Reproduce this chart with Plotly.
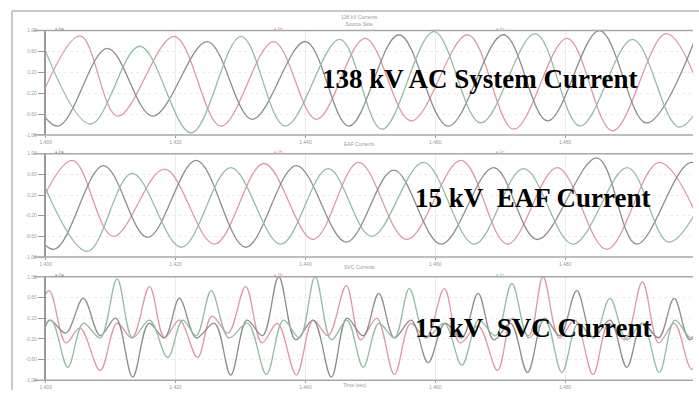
import plotly.graph_objects as go

W, H = 699, 393

# ---------------- axis ticks ----------------
x_tick_ms = [0, 20, 40, 60, 80]
x_tick_text = ["1.400", "1.420", "1.440", "1.460", "1.480"]
y_tick_vals = [-1.0, -0.6, -0.2, 0.2, 0.6, 1.0]
y_tick_text = ["-1.00", "-0.60", "-0.20", "0.20", "0.60", "1.00"]

# ---------------- panel 1 : 138 kV AC system current (time in ms, current in pu) ----------------
p1_t_a = [-2.3, 5.3, 11.1, 19.8, 27.0, 35.1, 41.7, 49.2, 56.3, 65.0, 72.1, 80.3, 87.3, 95.6, 102.6]
p1_i_a = [-0.77, 0.90, -0.64, 0.89, -0.83, 0.79, -0.70, 0.85, -0.73, 0.92, -0.89, 0.85, -0.92, 0.94, -0.81]
p1_t_b = [-5.8, 1.8, 9.5, 16.5, 24.9, 31.8, 40.0, 46.7, 54.4, 62.0, 70.5, 77.3, 85.3, 92.5, 100.2]
p1_i_b = [0.79, -0.83, 0.66, -0.64, 0.79, -0.70, 0.79, -0.83, 0.92, -0.83, 0.92, -0.73, 1.00, -0.77, 0.89]
p1_t_c = [-0.8, 6.9, 14.5, 22.4, 30.1, 36.9, 45.3, 51.8, 59.8, 67.0, 75.4, 82.3, 90.4, 97.6, 105.3]
p1_i_c = [0.85, -0.79, 0.70, -0.96, 0.89, -0.83, 0.83, -0.89, 0.98, -0.77, 0.94, -0.83, 0.83, -0.85, 0.85]

# ---------------- panel 2 : 15 kV EAF current ----------------
p2_t_a = [-3.5, 4.1, 10.4, 18.3, 26.0, 33.6, 41.2, 48.2, 55.6, 64.0, 71.1, 78.8, 86.4, 94.5, 102.0]
p2_i_a = [-0.75, 0.87, -0.60, 0.70, -0.75, 0.81, -0.66, 0.83, -0.66, 0.87, -0.75, 0.73, -0.85, 0.83, -0.71]
p2_t_b = [-6.5, 1.2, 8.9, 15.7, 23.2, 30.8, 38.6, 46.3, 53.6, 60.9, 69.0, 75.7, 84.9, 91.0, 99.5, 107.0]
p2_i_b = [0.80, -0.85, 0.77, -0.62, 0.87, -0.81, 0.77, -0.71, 0.68, -0.75, 0.73, -0.66, 0.92, -0.75, 0.83, -0.75]
p2_t_c = [-1.5, 6.4, 13.3, 20.9, 28.5, 36.2, 43.5, 50.2, 58.2, 66.0, 73.6, 81.2, 89.6, 96.0, 103.8]
p2_i_c = [0.77, -0.89, 0.62, -0.81, 0.73, -0.75, 0.71, -0.60, 0.83, -0.75, 0.71, -0.75, 0.73, -0.71, 0.80]

# ---------------- panel 3 : 15 kV SVC current ----------------
p3_t_a = [-7.3, -4.6, -2.7, 0.5, 3.1, 5.3, 8.4, 11.0, 13.3, 16.0, 18.3, 20.6, 23.4, 25.6, 28.1,
          30.8, 33.3, 35.7, 38.6, 41.2, 43.5, 46.3, 48.5, 51.0, 53.7, 56.2, 58.6, 61.4, 63.8,
          66.6, 69.6, 71.9, 74.4, 76.6, 79.1, 81.5, 84.3, 86.7, 89.2, 91.9, 94.4, 96.8, 99.5, 102.0]
p3_i_a = [-0.79, 0.01, -0.22, 0.73, -0.28, 0.01, -0.81, 0.10, -0.18, 0.81, -0.18, 0.16, -0.56, 0.24, -0.09,
          0.81, -0.28, 0.10, -0.90, 0.16, -0.14, 0.83, -0.22, 0.20, -0.89, 0.10, -0.18, 0.77, -0.28,
          0.05, -0.81, 0.20, -0.14, 1.00, -0.18, 0.16, -0.89, 0.10, -0.22, 0.90, -0.28, 0.10, -0.79, 0.01]
p3_t_b = [-4.3, -1.8, 0.6, 3.1, 5.8, 8.4, 10.8, 13.4, 15.9, 18.3, 20.6, 23.2, 26.0, 28.5, 31.0,
          33.4, 35.9, 38.5, 41.2, 44.0, 46.4, 48.9, 51.3, 53.7, 56.3, 58.9, 61.5, 64.1, 66.6,
          69.0, 71.6, 74.2, 76.8, 79.2, 81.8, 84.3, 86.9, 89.5, 91.9, 94.4, 96.8, 99.2, 101.8, 104.4]
p3_i_b = [0.10, -0.66, 0.16, -0.09, 0.58, -0.14, 0.20, -0.94, 0.10, -0.18, 0.58, -0.18, 0.10, -0.90, 0.16,
          -0.14, 1.00, -0.22, 0.16, -0.94, 0.20, -0.14, 0.68, -0.18, 0.16, -0.66, 0.10, -0.18, 0.68,
          -0.22, 0.10, -0.85, 0.20, -0.14, 0.73, -0.18, 0.16, -0.75, 0.10, -0.18, 0.58, -0.22, 0.10, -0.75]
p3_t_c = [-4.3, -1.8, 0.8, 3.4, 5.8, 8.4, 11.0, 13.4, 16.0, 18.8, 21.1, 23.2, 25.5, 28.2, 31.1,
          34.0, 36.6, 39.1, 41.5, 44.0, 46.4, 48.9, 51.3, 53.7, 56.0, 58.6, 61.4, 64.1, 66.7,
          69.3, 71.8, 74.4, 76.9, 79.5, 82.0, 84.4, 86.9, 89.5, 91.9, 94.5, 96.9, 99.4, 102.0]
p3_i_c = [0.58, -0.18, 0.16, -0.75, 0.10, -0.18, 0.96, -0.18, 0.16, -0.56, 0.16, -0.14, 0.73, -0.18, 0.10,
          -0.89, 0.16, -0.18, 1.00, -0.22, 0.16, -0.75, 0.10, -0.18, 0.77, -0.18, 0.10, -0.71, 0.16,
          -0.14, 0.87, -0.18, 0.16, -0.85, 0.10, -0.18, 0.58, -0.22, 0.10, -0.85, 0.16, -0.18, 0.68]

panel_titles = ["138 kV Currents<br>Source Side", "EAF Currents", "SVC Currents"]
panel_labels = ["138 kV AC System Current", "15 kV\u00a0 EAF Current", "15 kV\u00a0 SVC Current"]
legend_names = ["Ia", "Ib", "Ic"]

COL_A = "#dc98a9"   # pink
COL_B = "#8c8c8c"   # gray
COL_C = "#93bda0"   # green

# ---------------- layout geometry (pixels) ----------------
PX_L, PX_R = 40, 693
panels_px = [(28, 134), (153, 258), (278, 383)]

def px_x(p):
    return p / W

def px_y(p):
    return 1 - p / H

fig = go.Figure()

series = [
    [(p1_t_a, p1_i_a, COL_A), (p1_t_b, p1_i_b, COL_B), (p1_t_c, p1_i_c, COL_C)],
    [(p2_t_a, p2_i_a, COL_A), (p2_t_b, p2_i_b, COL_B), (p2_t_c, p2_i_c, COL_C)],
    [(p3_t_a, p3_i_a, COL_A), (p3_t_b, p3_i_b, COL_B), (p3_t_c, p3_i_c, COL_C)],
]

shapes = []
annotations = []

# outer frame
shapes.append(dict(type="line", xref="paper", yref="paper", x0=px_x(6), x1=1.0, y0=px_y(8), y1=px_y(8),
                   line=dict(color="#c8c8c8", width=2)))
shapes.append(dict(type="line", xref="paper", yref="paper", x0=px_x(6), x1=px_x(6), y0=0, y1=px_y(8),
                   line=dict(color="#c8c8c8", width=2)))

for k, (top, bot) in enumerate(panels_px):
    n = "" if k == 0 else str(k + 1)
    xa = "x" + n
    ya = "y" + n
    for (t, v, c) in series[k]:
        fig.add_trace(go.Scatter(x=t, y=v, mode="lines", xaxis=xa, yaxis=ya,
                                 line=dict(color=c, width=1.3, shape="spline", smoothing=1.0),
                                 showlegend=False, hoverinfo="skip"))
    fig.layout["xaxis" + n] = dict(
        domain=[px_x(PX_L), px_x(PX_R)], anchor=ya, range=[0, 99.7],
        tickvals=x_tick_ms, ticktext=x_tick_text, ticks="outside", ticklen=2,
        tickcolor="#999", tickfont=dict(size=5, color="#999", family="Arial"),
        showgrid=True, gridcolor="#ececec", gridwidth=1, zeroline=False,
        showline=False,
    )
    fig.layout["yaxis" + n] = dict(
        domain=[px_y(bot), px_y(top)], anchor=xa, range=[-1.0, 1.0],
        tickvals=y_tick_vals, ticktext=y_tick_text, ticks="outside", ticklen=6,
        tickcolor="#999", tickfont=dict(size=5, color="#a0a0a0", family="Arial"),
        showgrid=True, gridcolor="#ececec", griddash="dot", zeroline=False,
        showline=True, linecolor="#999", linewidth=1.5,
    )
    # panel frame lines (top and bottom)
    for yy in (top, bot):
        shapes.append(dict(type="line", xref="paper", yref="paper", x0=px_x(28), x1=px_x(PX_R),
                           y0=px_y(yy), y1=px_y(yy), line=dict(color="#a8a8a8", width=1.5)))
    # panel title
    annotations.append(dict(xref="paper", yref="paper", x=px_x(357), y=px_y(top - 10),
                            text=panel_titles[k], showarrow=False, xanchor="center", yanchor="middle",
                            font=dict(size=5, color="#9a9a9a", family="Arial")))
    # curve legend labels on top border
    for lx, name, c in zip([47, 268, 492], legend_names, [COL_B, COL_A, COL_C]):
        annotations.append(dict(xref="paper", yref="paper", x=px_x(lx), y=px_y(top - 2),
                                text="\u25aa " + name, showarrow=False, xanchor="left", yanchor="middle",
                                font=dict(size=6, color=c, family="Arial")))

# big bold overlay labels
label_pos = [(317, 77), (411, 198), (411, 330)]
for (lx, ly), txt in zip(label_pos, panel_labels):
    annotations.append(dict(xref="paper", yref="paper", x=px_x(lx), y=px_y(ly),
                            text="<b>" + txt + "</b>", showarrow=False, xanchor="left", yanchor="middle",
                            font=dict(size=27, color="#000000", family="Liberation Serif")))

# x axis title
annotations.append(dict(xref="paper", yref="paper", x=px_x(352), y=px_y(388),
                        text="Time (sec)", showarrow=False, xanchor="center", yanchor="middle",
                        font=dict(size=5, color="#9a9a9a", family="Arial")))

fig.update_layout(
    width=W, height=H,
    margin=dict(l=0, r=0, t=0, b=0),
    paper_bgcolor="white", plot_bgcolor="white",
    shapes=shapes, annotations=annotations,
    showlegend=False,
)

fig.write_html("out.html", config={"displayModeBar": False},
               post_script="document.body.style.margin='0';document.body.style.overflow='hidden';")
